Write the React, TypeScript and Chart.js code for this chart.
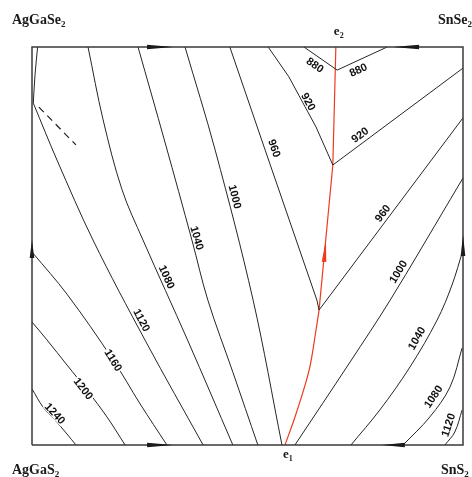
import React, { useEffect, useRef } from "react";
import { Chart, registerables } from "chart.js";

Chart.register(...registerables);

type P = [number, number];

// composition square: x = SnX2 share (0..100), y = Se share (0..100)
const frame: P[] = [[0, 0], [100, 0], [100, 100], [0, 100], [0, 0]];

const liqAgGaSe2: P[] = [[1.3, 100], [0.7, 93], [0.3, 85.9]];
const dashedBoundary: P[] = [[1.6, 84.9], [10.2, 75.4]];

const iso1240: P[] = [[0, 14.1], [2.55, 9.55], [5.34, 6.28], [8.12, 2.76], [10.2, 0]];
const iso1200: P[] = [[0, 30.9], [3.48, 26.4], [8.12, 20.1], [12.76, 13.8], [17.4, 7.04], [21.6, 0]];
const iso1160: P[] = [[0.23, 48.2], [8.12, 37.9], [18.8, 21.4], [25.1, 10.3], [31.3, 0]];
const iso1120L: P[] = [[0.3, 85.9], [5.8, 71.6], [14.15, 51.5], [26.45, 25.9], [39.7, 0]];
const iso1080L: P[] = [[13.0, 100], [16.5, 81.7], [20.9, 64.1], [25.75, 51.5], [36.2, 26.1], [46.6, 0]];
const iso1040L: P[] = [[24.6, 100], [30.9, 75.9], [37.1, 51.5], [40.8, 36.4], [46.6, 18.3], [52.4, 0]];
const iso1000L: P[] = [[35.5, 100], [42.5, 74.1], [51.3, 36.4], [58.0, 0]];
const iso960L: P[] = [[45.9, 100], [54.1, 74.1], [66.1, 36.4], [66.6, 33.9]];
const iso920L: P[] = [[54.8, 100], [59.6, 92.5], [65.9, 79.9], [69.8, 70.35]];
const iso880L: P[] = [[63.1, 100], [70.8, 94.2]];
const iso880R: P[] = [[70.8, 94.2], [82.4, 100]];
const iso920R: P[] = [[69.8, 70.35], [100, 94.7]];
const iso960R: P[] = [[66.6, 33.9], [100, 82.2]];
const iso1000R: P[] = [[61.0, 0], [73.8, 20.85], [83.1, 36.4], [97.0, 61.6], [100, 67.1]];
const iso1040R: P[] = [[74.0, 0], [80.7, 8.8], [87.7, 19.6], [94.0, 31.4], [97.45, 40.2], [100, 49.0]];
const iso1080R: P[] = [[86.1, 0], [92.3, 7.04], [97.0, 14.6], [99.8, 24.4]];
const iso1120R: P[] = [[95.8, 0], [98.1, 3.27], [99.8, 8.8]];

const eutecticUpper: P[] = [[70.5, 100], [69.8, 70.35], [66.6, 33.9]];
const eutecticLower: P[] = [[66.6, 33.9], [65.9, 28.9], [64.3, 18.8], [61.25, 7.8], [58.7, 0]];

const curvedLines: Record<string, P[]> = {
  liqAgGaSe2, iso1240, iso1200, iso1160, iso1120L, iso1080L, iso1040L, iso1000L,
  iso1000R, iso1040R, iso1080R, iso1120R,
};
const straightLines: Record<string, P[]> = {
  iso960L, iso920L, iso880L, iso880R, iso920R, iso960R,
};
const allLines: Record<string, P[]> = { ...curvedLines, ...straightLines, eutecticUpper, eutecticLower };

const labelTexts = ["880", "880", "920", "920", "960", "960", "1000", "1000", "1040", "1040", "1080", "1080", "1120", "1120", "1160", "1200", "1240"];
const labelLines = ["iso880L", "iso880R", "iso920L", "iso920R", "iso960L", "iso960R", "iso1000L", "iso1000R", "iso1040L", "iso1040R", "iso1080L", "iso1080R", "iso1120L", "iso1120R", "iso1160", "iso1200", "iso1240"];
const labelX = [65.66, 75.71, 64.11, 76.1, 56.22, 81.37, 47.1, 84.99, 38.28, 89.26, 31.25, 93.11, 25.45, 96.59, 18.86, 11.9, 5.34];
const labelY = [95.48, 94.22, 86.26, 77.89, 74.55, 58.22, 62.39, 43.54, 52.01, 26.81, 42.21, 12.14, 31.33, 5.03, 21.28, 14.15, 7.87];

// arrows: [tailX, tailY, tipX, tipY]
const edgeArrows: [number, number, number, number][] = [
  [26.7, 100, 32.7, 100],
  [89.8, 100, 83.8, 100],
  [26.7, 0, 32.7, 0],
  [86.5, 0, 81.2, 0],
  [0, 47.0, 0, 51.5],
  [100, 47.5, 100, 52.8],
];
const eutecticArrow: [number, number, number, number] = [67.75, 46.0, 68.2, 51.5];

const cornerLabels: [string, string][] = [["AgGaSe", "2"], ["SnSe", "2"], ["AgGaS", "2"], ["SnS", "2"]];
const eutecticLabels: [string, string][] = [["e", "2"], ["e", "1"]];

const toXY = (pts: P[]) => pts.map(([x, y]) => ({ x, y }));

function drawChem(ctx: CanvasRenderingContext2D, base: string, sub: string, x: number, y: number, size: number) {
  ctx.font = `bold ${size}px "Liberation Serif", "Times New Roman", serif`;
  ctx.textAlign = "left";
  ctx.textBaseline = "alphabetic";
  ctx.fillText(base, x, y);
  const w = ctx.measureText(base).width;
  ctx.font = `bold ${Math.round(size * 0.62)}px "Liberation Serif", "Times New Roman", serif`;
  ctx.fillText(sub, x + w, y + size * 0.22);
}

const overlay = {
  id: "overlay",
  afterDatasetsDraw(chart: any) {
    const ctx: CanvasRenderingContext2D = chart.ctx;
    const xs = chart.scales.x;
    const ys = chart.scales.y;
    const px = (p: P): P => [xs.getPixelForValue(p[0]), ys.getPixelForValue(p[1])];
    ctx.save();
    // isotherm labels
    ctx.font = 'bold 11px "Liberation Sans", Arial, sans-serif';
    ctx.textAlign = "center";
    ctx.textBaseline = "middle";
    labelTexts.forEach((t, i) => {
      const pts = allLines[labelLines[i]].map(px);
      const [cx, cy] = px([labelX[i], labelY[i]]);
      let best = Infinity;
      let ang = 0;
      for (let k = 0; k < pts.length - 1; k++) {
        const [x1, y1] = pts[k];
        const [x2, y2] = pts[k + 1];
        const dx = x2 - x1, dy = y2 - y1;
        const l2 = dx * dx + dy * dy;
        let tt = ((cx - x1) * dx + (cy - y1) * dy) / l2;
        tt = Math.max(0, Math.min(1, tt));
        const qx = x1 + tt * dx, qy = y1 + tt * dy;
        const d = (qx - cx) ** 2 + (qy - cy) ** 2;
        if (d < best) {
          best = d;
          ang = dx >= 0 ? Math.atan2(dy, dx) : Math.atan2(-dy, -dx);
        }
      }
      ctx.save();
      ctx.translate(cx, cy);
      ctx.rotate(ang);
      const w = ctx.measureText(t).width;
      ctx.fillStyle = "#ffffff";
      ctx.fillRect(-w / 2 - 1, -4.5, w + 2, 9);
      ctx.fillStyle = "#111111";
      ctx.fillText(t, 0, 0.5);
      ctx.restore();
    });
    // arrows
    const drawArrow = (a: [number, number, number, number], color: string, hw: number) => {
      const [tx, ty] = px([a[0], a[1]]);
      const [hx, hy] = px([a[2], a[3]]);
      const dx = hx - tx, dy = hy - ty;
      const len = Math.hypot(dx, dy);
      const nx = -dy / len, ny = dx / len;
      ctx.fillStyle = color;
      ctx.beginPath();
      ctx.moveTo(hx, hy);
      ctx.lineTo(tx + nx * hw, ty + ny * hw);
      ctx.lineTo(tx - nx * hw, ty - ny * hw);
      ctx.closePath();
      ctx.fill();
    };
    edgeArrows.forEach((a) => drawArrow(a, "#1a1a1a", 2.3));
    drawArrow(eutecticArrow, "#ee3b1e", 2.3);
    // corner labels
    ctx.fillStyle = "#1a1a1a";
    const ca = chart.chartArea;
    drawChem(ctx, cornerLabels[0][0], cornerLabels[0][1], ca.left - 20, ca.top - 23, 14);
    drawChem(ctx, cornerLabels[1][0], cornerLabels[1][1], ca.right - 25, ca.top - 23, 14);
    drawChem(ctx, cornerLabels[2][0], cornerLabels[2][1], ca.left - 20, ca.bottom + 29, 14);
    drawChem(ctx, cornerLabels[3][0], cornerLabels[3][1], ca.right - 22, ca.bottom + 29, 14);
    const [e2x] = px(eutecticUpper[0]);
    const [e1x] = px(eutecticLower[eutecticLower.length - 1]);
    drawChem(ctx, eutecticLabels[0][0], eutecticLabels[0][1], e2x - 2, ca.top - 12, 13);
    drawChem(ctx, eutecticLabels[1][0], eutecticLabels[1][1], e1x - 2, ca.bottom + 13, 13);
    ctx.restore();
  },
};

export default function App() {
  const ref = useRef<HTMLCanvasElement | null>(null);
  useEffect(() => {
    document.body.style.margin = "0";
    if (!ref.current) return;
    const base = { showLine: true, pointRadius: 0, pointHoverRadius: 0, fill: false, clip: false as any };
    const datasets: any[] = [
      { ...base, data: toXY(frame), borderColor: "#3a3a3a", borderWidth: 1.5, tension: 0 },
      { ...base, data: toXY(dashedBoundary), borderColor: "#1e1e1e", borderWidth: 1.2, borderDash: [7, 5], tension: 0 },
      ...Object.values(curvedLines).map((pts) => ({ ...base, data: toXY(pts), borderColor: "#252525", borderWidth: 1, tension: 0.35 })),
      ...Object.values(straightLines).map((pts) => ({ ...base, data: toXY(pts), borderColor: "#252525", borderWidth: 1, tension: 0 })),
      { ...base, data: toXY(eutecticUpper), borderColor: "#ee3b1e", borderWidth: 1.2, tension: 0 },
      { ...base, data: toXY(eutecticLower), borderColor: "#ee3b1e", borderWidth: 1.2, tension: 0.35 },
    ];
    const chart = new Chart(ref.current, {
      type: "scatter",
      data: { datasets },
      options: {
        responsive: false,
        maintainAspectRatio: false,
        animation: false,
        devicePixelRatio: 1,
        layout: { padding: { left: 32, right: 9, top: 47, bottom: 32 } },
        scales: {
          x: { type: "linear", min: 0, max: 100, display: false },
          y: { type: "linear", min: 0, max: 100, display: false },
        },
        plugins: { legend: { display: false }, tooltip: { enabled: false } },
        events: [],
      },
      plugins: [overlay],
    });
    return () => chart.destroy();
  }, []);
  return <canvas ref={ref} width={472} height={477} style={{ display: "block", background: "#fff" }} />;
}
